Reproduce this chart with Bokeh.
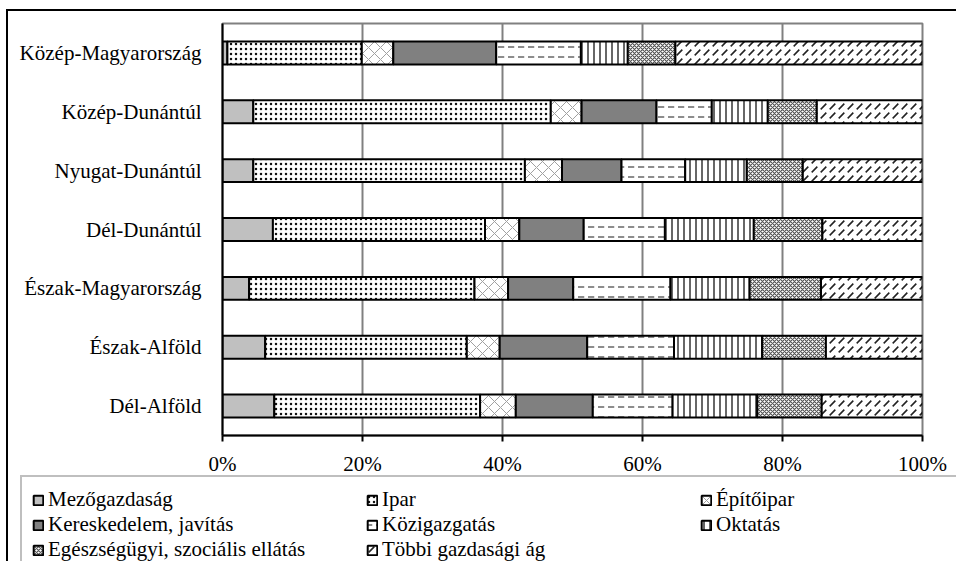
from bokeh.plotting import figure
from bokeh.models import FactorRange, Range1d, FixedTicker, Legend, LegendItem, ColumnDataSource
from bokeh.embed import file_html
from bokeh.resources import INLINE

regions = ["Közép-Magyarország", "Közép-Dunántúl", "Nyugat-Dunántúl", "Dél-Dunántúl",
           "Észak-Magyarország", "Észak-Alföld", "Dél-Alföld"]
sectors = ["Mezőgazdaság", "Ipar", "Építőipar", "Kereskedelem, javítás",
           "Közigazgatás", "Oktatás", "Egészségügyi, szociális ellátás", "Többi gazdasági ág"]

mezogazdasag = [0.7, 4.4, 4.4, 7.2, 3.8, 6.1, 7.4]
ipar = [19.2, 42.5, 38.8, 30.3, 32.2, 28.8, 29.4]
epitoipar = [4.5, 4.4, 5.3, 4.9, 4.8, 4.7, 5.1]
kereskedelem = [14.7, 10.7, 8.5, 9.2, 9.3, 12.5, 11.0]
kozigazgatas = [12.1, 7.9, 9.1, 11.6, 13.9, 12.4, 11.4]
oktatas = [6.7, 8.0, 8.8, 12.7, 11.3, 12.6, 12.1]
egeszsegugy = [6.8, 7.0, 8.0, 9.8, 10.2, 9.1, 9.2]
tobbi = [35.3, 15.1, 17.1, 14.3, 14.5, 13.8, 14.4]

tick_values = [0, 20, 40, 60, 80, 100]
tick_labels = ["0%", "20%", "40%", "60%", "80%", "100%"]

keys = ["s0", "s1", "s2", "s3", "s4", "s5", "s6", "s7"]
series = [mezogazdasag, ipar, epitoipar, kereskedelem, kozigazgatas, oktatas, egeszsegugy, tobbi]
data = {"region": regions}
for k, s in zip(keys, series):
    data[k] = s
source = ColumnDataSource(data)

FONT = "Liberation Serif"

fills = ["#c0c0c0", "white", "white", "#808080", "white", "white", "white", "white"]
hatches = [" ", "dot", "diagonal_cross", " ", "horizontal_dash", "vertical_line", "diagonal_cross", "right_diagonal_dash"]
hcolors = ["black", "#111111", "#a0a0a0", "black", "#666666", "#333333", "#555555", "#222222"]
hscales = [12, 5, 12, 12, 10, 6, 4, 9]
hweights = [1, 2.8, 1, 1, 1.5, 1.5, 1.2, 1.6]

p = figure(y_range=FactorRange(factors=list(reversed(regions)), range_padding=0),
           x_range=Range1d(0, 100),
           frame_width=700, frame_height=412,
           min_border_left=214, min_border_right=34, min_border_top=12, min_border_bottom=0,
           output_backend="svg", toolbar_location=None)
p.styles = {"border-top": "2px solid black", "border-left": "2px solid black",
            "margin-left": "6px", "margin-top": "9px"}

p.hbar_stack(keys, y="region", height=0.39, source=source,
             fill_color=fills, hatch_pattern=hatches, hatch_color=hcolors,
             hatch_scale=hscales, hatch_weight=hweights,
             line_color="black", line_width=2)

p.xgrid.grid_line_color = "#808080"
p.xgrid.grid_line_width = 2
p.ygrid.grid_line_color = None
p.outline_line_color = "#808080"
p.outline_line_width = 2

p.xaxis.ticker = FixedTicker(ticks=tick_values)
p.xaxis.major_label_overrides = {v: l for v, l in zip(tick_values, tick_labels)}
p.xaxis.axis_line_color = "black"
p.xaxis.axis_line_width = 2
p.xaxis.major_tick_line_color = "black"
p.xaxis.major_tick_line_width = 2
p.xaxis.major_tick_out = 6
p.xaxis.major_tick_in = 0
p.xaxis.minor_tick_line_color = None
p.xaxis.major_label_standoff = 10
p.xaxis.major_label_text_font = FONT
p.xaxis.major_label_text_font_size = "21px"
p.xaxis.major_label_text_color = "black"

p.yaxis.axis_line_color = "black"
p.yaxis.axis_line_width = 2
p.yaxis.major_tick_line_color = None
p.yaxis.minor_tick_line_color = None
p.yaxis.major_label_standoff = 15
p.yaxis.major_label_text_font = FONT
p.yaxis.major_label_text_font_size = "21px"
p.yaxis.major_label_text_color = "black"

# Legend panel: same data drawn out of view so that the legend gets the glyph styles
p2 = figure(width=948, height=86,
            y_range=FactorRange(factors=list(reversed(regions))),
            x_range=Range1d(200, 300),
            x_axis_location=None, y_axis_location=None,
            min_border_left=12, min_border_right=0, min_border_top=0, min_border_bottom=0,
            output_backend="svg", toolbar_location=None)
p2.styles = {"border-left": "2px solid black", "margin-left": "6px", "margin-top": "-3px"}
p2.grid.visible = False
p2.outline_line_color = None
legend_renderers = p2.hbar_stack(keys, y="region", height=0.39, source=source,
                                 fill_color=fills, hatch_pattern=hatches, hatch_color=hcolors,
                                 hatch_scale=hscales, hatch_weight=hweights,
                                 line_color="black", line_width=2)

items = [LegendItem(label=s, renderers=[r]) for s, r in zip(sectors, legend_renderers)]
legend = Legend(items=items, orientation="horizontal", ncols=3,
                location="top_left",
                label_text_font=FONT, label_text_font_size="21px", label_text_color="black",
                label_text_line_height=0.9,
                glyph_width=12, glyph_height=12, label_standoff=4,
                label_width=318, label_height=16, spacing=0,
                padding=10, margin=0,
                border_line_color="#808080", border_line_width=2,
                background_fill_color="white", background_fill_alpha=1)
p2.add_layout(legend, "center")

open("out.html", "w").write(file_html([p, p2], INLINE))
